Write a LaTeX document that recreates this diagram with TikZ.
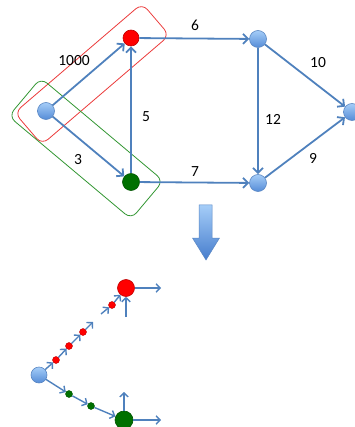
\documentclass[tikz,border=0pt]{standalone}
\usepackage{fontspec}
\setmainfont{Carlito}
\usetikzlibrary{arrows.meta}
\definecolor{edgeblue}{RGB}{79,129,189}
\definecolor{nodetop}{RGB}{165,205,248}
\definecolor{nodebot}{RGB}{85,140,215}
\definecolor{nodeborder}{RGB}{90,135,195}
\definecolor{greenfill}{RGB}{0,112,0}
\definecolor{rectred}{RGB}{235,60,60}
\definecolor{rectgreen}{RGB}{50,150,50}
\definecolor{arrowtop}{RGB}{165,205,248}
\definecolor{arrowbot}{RGB}{70,125,205}
\begin{document}
\begin{tikzpicture}[x=1pt,y=-1pt,
  bnode/.style={circle,inner sep=0pt,minimum size=17pt,top color=nodetop,bottom color=nodebot,draw=nodeborder,line width=0.6pt},
  rnode/.style={circle,inner sep=0pt,minimum size=16pt,fill=red,draw=red!75!black,line width=0.6pt},
  gnode/.style={circle,inner sep=0pt,minimum size=17pt,fill=greenfill,draw=greenfill!75!black,line width=0.6pt},
  rdot/.style={circle,inner sep=0pt,minimum size=7pt,fill=red,draw=red!75!black,line width=0.4pt},
  gdot/.style={circle,inner sep=0pt,minimum size=7pt,fill=greenfill,draw=greenfill!75!black,line width=0.4pt},
  edge/.style={draw=edgeblue,line width=1.8pt,-{Straight Barb[length=5pt,width=10pt]}},
  sedge/.style={draw=edgeblue,line width=1.4pt,-{Straight Barb[length=4pt,width=8.5pt]}},
  lbl/.style={font=\fontsize{15.5}{18}\selectfont,inner sep=0pt},
  grp/.style={line width=0.8pt,rounded corners=8pt}
]
\useasboundingbox (0,0) rectangle (354,427);

% group rectangles
\draw[grp,draw=rectred,rotate around={40.6:(92,74)}] (8,53) rectangle (176,95);
\draw[grp,draw=rectgreen,rotate around={-40:(86,148.5)}] (6,123.5) rectangle (166,173.5);

% top graph nodes
\node[bnode] (s) at (46,111) {};
\node[rnode] (r) at (131,38) {};
\node[gnode] (g) at (131,182) {};
\node[bnode] (tr) at (258,39) {};
\node[bnode] (br) at (258,183) {};
\node[bnode] (fr) at (352,112) {};

% top edges
\draw[edge] (s) -- (r);
\draw[edge] (s) -- (g);
\draw[edge] (g) -- (r);
\draw[edge] (r) -- (tr);
\draw[edge] (g) -- (br);
\draw[edge] (tr) -- (br);
\draw[edge] (tr) -- (fr);
\draw[edge] (br) -- (fr);

% labels
\node[lbl] (l1000) at (74,61) {1000};
\node[lbl] (l5) at (146,117) {5};
\node[lbl] (l3) at (78,160) {3};
\node[lbl] (l6) at (195,25) {6};
\node[lbl] (l7) at (195,172) {7};
\node[lbl] (l12) at (273,119) {12};
\node[lbl] (l10) at (318,63) {10};
\node[lbl] (l9) at (313,158) {9};

% big down arrow
\shade[top color=arrowtop,bottom color=arrowbot,draw=nodeborder,line width=0.5pt]
  (199,205) -- (212,205) -- (212,238) -- (219.5,238) -- (206,260) -- (192.5,238) -- (199,238) -- cycle;

% bottom part
\node[bnode,minimum size=16pt] (b) at (39,375) {};
\node[rnode,minimum size=17pt] (R) at (126,288) {};
\node[gnode,minimum size=18pt] (G) at (124,420) {};
\node[rdot] (d1) at (56,360) {};
\node[rdot] (d2) at (69,346) {};
\node[rdot] (d3) at (83,332) {};
\node[rdot] (d4) at (112,305) {};
\node[gdot] (g1) at (69,394) {};
\node[gdot] (g2) at (91,406) {};
\coordinate (dA) at (93,322);
\coordinate (dB) at (101,314);
\coordinate (Rout) at (161,288);
\coordinate (Rin) at (126,317);
\coordinate (Gout) at (161,420);
\coordinate (Gup) at (124,392);

\draw[sedge] (b) -- (d1);
\draw[sedge] (d1) -- (d2);
\draw[sedge] (d2) -- (d3);
\draw[sedge] (d3) -- (dA);
\draw[sedge] (dB) -- (d4);
\draw[sedge] (d4) -- (R);
\draw[sedge] (R) -- (Rout);
\draw[sedge] (Rin) -- (R);
\draw[sedge] (b) -- (g1);
\draw[sedge] (g1) -- (g2);
\draw[sedge] (g2) -- (G);
\draw[sedge] (G) -- (Gout);
\draw[sedge] (G) -- (Gup);
\end{tikzpicture}
\end{document}
